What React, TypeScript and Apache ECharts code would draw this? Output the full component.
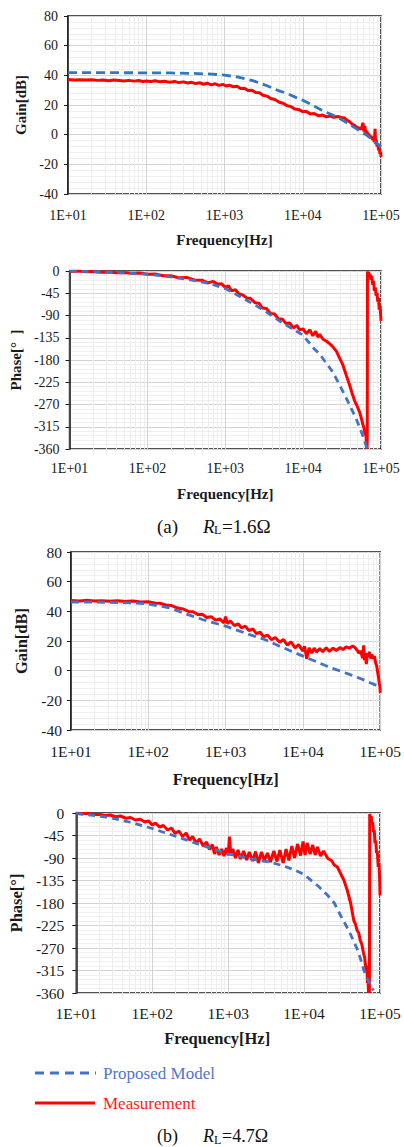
import React, { useEffect, useRef } from 'react';
import * as echarts from 'echarts';

const FONT = 'Liberation Serif';

// Frequency axis: decades 1E+01 .. 1E+05, minor grid at 2..9 x decade
const freqMin = 10;
const freqMax = 100000;
const minorGridFreqs = [
  20, 30, 40, 50, 60, 70, 80, 90,
  200, 300, 400, 500, 600, 700, 800, 900,
  2000, 3000, 4000, 5000, 6000, 7000, 8000, 9000,
  20000, 30000, 40000, 50000, 60000, 70000, 80000, 90000,
];
const gainRange = [-40, 80];
const gainStep = 20;
const phaseRange = [-360, 0];
const phaseStep = 45;

// (a) RL = 1.6 ohm, gain [dB]
const gainA_model: [number, number][] = [
  [10, 41.8], [30, 41.8], [100, 41.7], [200, 41.6], [400, 41.3], [700, 40.8], [1000, 40.2],
  [1500, 38.8], [2300, 36.4], [3500, 33.0], [5000, 29.5], [6200, 27.9], [8000, 25.3],
  [10000, 23.2], [13000, 20.2], [16600, 17.1], [21000, 14.6], [27000, 12.1], [35000, 8.6],
  [44000, 5.4], [55000, 2.2], [65000, -0.2], [80000, -4.0], [100000, -8.0],
];
const gainA_meas: [number, number][] = [
  [10, 37.2], [12, 36.8], [14, 37.1], [17, 36.9], [20, 37.0], [24, 36.6], [28, 36.9], [33, 36.4],
  [38, 36.8], [45, 36.5], [52, 36.2], [60, 36.6], [70, 36.1], [80, 36.5], [90, 35.9], [100, 36.2],
  [115, 35.8], [130, 36.3], [150, 35.6], [170, 36.0], [200, 35.4], [230, 35.9], [260, 35.1],
  [300, 35.6], [340, 34.8], [380, 35.3], [430, 34.4], [480, 35.0], [540, 34.0], [600, 34.7],
  [680, 33.6], [760, 34.3], [850, 33.2], [950, 33.9], [1050, 32.8], [1150, 33.4], [1300, 32.3],
  [1450, 32.7], [1600, 31.2], [1800, 31.3], [2000, 29.8], [2250, 29.9], [2500, 28.4], [2800, 28.3],
  [3100, 26.6], [3500, 26.0], [3900, 24.4], [4400, 23.7], [5000, 21.9], [5600, 21.2], [6300, 19.6],
  [7000, 19.0], [7900, 17.3], [8800, 17.0], [10000, 15.5], [11000, 15.8], [12500, 14.0],
  [14000, 14.3], [16000, 12.7], [18000, 13.2], [20000, 12.0], [22500, 12.6], [25000, 11.7],
  [28000, 12.3], [31000, 11.6], [34000, 11.4], [37000, 9.6], [40000, 8.6], [43000, 7.0],
  [46000, 6.3], [49000, 5.0], [52000, 4.6], [55000, 3.5], [57000, 5.5], [59000, 8.0], [60500, 2.0],
  [62000, 5.8], [64000, 0.8], [66000, 2.5], [68000, -0.5], [70000, 0.5], [72000, -1.8],
  [75000, -1.0], [78000, -3.5], [80000, -2.0], [82000, -5.0], [84000, 4.0], [85500, -6.5],
  [87000, -3.5], [89000, -8.0], [91000, -6.0], [93000, -10.5], [95000, -9.0], [97000, -13.0],
  [99000, -11.5], [100000, -15.0],
];

// (a) RL = 1.6 ohm, phase [deg]
const phaseA_model: [number, number][] = [
  [10, 0], [20, -1.5], [50, -3.5], [100, -6.5], [200, -12], [300, -16], [450, -21], [643, -25.4],
  [1000, -35.5], [1300, -45], [1710, -55.6], [2300, -67], [3090, -79], [4200, -93], [5560, -106],
  [7500, -118], [10000, -130], [13400, -155], [16300, -168], [18900, -182], [24200, -205],
  [26700, -218], [35800, -257], [48000, -299], [55000, -322], [61400, -343], [66300, -360],
];
const phaseA_meas: [number, number][] = [
  [10, -1], [13, 0], [16, -1.5], [20, -1], [25, -2.5], [32, -2], [40, -3.5], [50, -2.8], [63, -4.5],
  [80, -4], [100, -6.5], [125, -6], [160, -9.5], [200, -9.5], [250, -13.5], [320, -13], [400, -18],
  [500, -18.5], [600, -24], [700, -21], [800, -27], [900, -26], [1000, -33], [1100, -30],
  [1200, -40], [1350, -38], [1500, -46], [1700, -49], [1900, -55], [2100, -55], [2400, -64],
  [2700, -65], [3000, -75], [3400, -76], [3800, -86], [4300, -87], [4800, -97], [5400, -97],
  [6000, -106], [6700, -105], [7500, -115], [8300, -110], [9000, -119], [10000, -117],
  [11000, -127], [12200, -119], [13300, -131], [14500, -122], [15500, -134], [16300, -128],
  [18000, -138], [20000, -142], [21900, -147], [24000, -153], [26700, -162], [29400, -176],
  [32400, -190], [36000, -212], [39400, -230], [42500, -247], [45700, -262], [49000, -272],
  [53000, -285], [56000, -298], [58400, -310], [60500, -318], [62700, -332], [64000, -326],
  [65000, -352], [65600, -338], [66200, -360], [66600, -340], [67000, -5], [67500, -1],
  [68500, -8], [69500, -2], [71000, -12], [72500, -6], [74000, -18], [76000, -10], [78400, -28],
  [80500, -20], [82000, -40], [84500, -33], [86500, -50], [89000, -44], [90800, -62],
  [93000, -55], [95000, -78], [97500, -70], [100000, -101],
];

// (b) RL = 4.7 ohm, gain [dB]
const gainB_model: [number, number][] = [
  [10, 46.3], [30, 46.1], [60, 45.7], [100, 45.0], [200, 42.0], [303, 38.3], [500, 34.5],
  [1000, 30.0], [2000, 24.5], [3200, 21.0], [5000, 16.5], [10000, 9.8], [22900, 2.0],
  [40000, -2.5], [61200, -6.2], [100000, -11.1],
];
const gainB_meas: [number, number][] = [
  [10, 47.3], [13, 47.0], [16, 47.4], [20, 46.9], [25, 47.2], [32, 46.8], [40, 47.1], [50, 46.6],
  [63, 46.9], [80, 46.3], [100, 46.5], [120, 45.6], [140, 45.4], [170, 44.3], [200, 43.9],
  [240, 42.2], [280, 41.6], [330, 39.9], [380, 39.7], [440, 37.8], [500, 38.0], [570, 35.9],
  [650, 36.4], [740, 34.1], [840, 34.9], [950, 32.2], [1000, 36.5], [1050, 31.8], [1150, 33.5],
  [1300, 30.4], [1450, 31.6], [1600, 28.9], [1800, 30.0], [2000, 27.0], [2250, 28.2],
  [2500, 25.0], [2800, 25.9], [3100, 22.9], [3500, 24.0], [3900, 20.9], [4400, 22.3],
  [5000, 19.2], [5600, 21.0], [6300, 17.2], [7000, 19.5], [7900, 15.4], [8800, 17.6],
  [10000, 13.2], [10500, 16.5], [11200, 8.0], [12000, 15.4], [13000, 11.8], [14000, 15.2],
  [15000, 12.6], [16500, 15.0], [18000, 12.8], [20000, 15.4], [22000, 13.0], [24500, 15.2],
  [27000, 13.6], [30000, 15.6], [33000, 14.2], [36000, 16.0], [40000, 15.2], [44000, 16.6],
  [47000, 15.6], [50000, 14.0], [53000, 11.8], [56000, 13.2], [59000, 8.5], [61000, 17.0],
  [62500, 7.0], [64000, 12.0], [66000, 4.5], [68000, 11.5], [70000, 9.5], [72000, 12.8],
  [75000, 8.2], [78000, 11.0], [81000, 8.0], [84000, 9.8], [87000, 5.5], [90000, 3.0],
  [93000, -1.8], [95000, -4.5], [97000, -8.5], [99000, -11.0], [100000, -15.0],
];

// (b) RL = 4.7 ohm, phase [deg]
const phaseB_model: [number, number][] = [
  [10, -1], [25, -8], [50, -18], [100, -31], [218, -48], [400, -62], [700, -74], [1000, -82],
  [2000, -92], [3475, -98], [5150, -105], [7500, -114], [10000, -123], [15300, -146],
  [20000, -163], [25000, -180], [30500, -206], [37200, -230], [41000, -243], [50000, -272],
  [55000, -290], [60800, -313], [67000, -330], [74000, -341], [81800, -355],
];
const phaseB_meas: [number, number][] = [
  [10, 0], [12, -1.5], [14, -0.5], [17, -3], [20, -2.5], [24, -5], [28, -4], [33, -7.5], [38, -6],
  [45, -10.5], [52, -9], [60, -14], [70, -12.5], [80, -18], [90, -16], [100, -24], [110, -20],
  [125, -28], [140, -25], [160, -34], [180, -30], [200, -41], [225, -36], [250, -47], [280, -40],
  [310, -54], [340, -47], [380, -60], [420, -52], [470, -66], [520, -58], [570, -73], [620, -63],
  [660, -82], [700, -68], [760, -84], [820, -72], [880, -86], [950, -70], [1000, -85], [1040, -47],
  [1080, -80], [1150, -72], [1250, -90], [1350, -74], [1450, -92], [1600, -76], [1750, -94],
  [1900, -78], [2100, -96], [2300, -77], [2500, -100], [2750, -78], [3000, -95], [3300, -80],
  [3600, -98], [4000, -76], [4400, -97], [4800, -74], [5300, -100], [5800, -72], [6300, -95],
  [6900, -66], [7500, -90], [8200, -62], [9000, -85], [9700, -57], [10300, -84], [11000, -60],
  [12000, -82], [13000, -64], [14000, -84], [15000, -68], [16500, -86], [18000, -76],
  [20600, -91], [23000, -95], [25000, -104], [27500, -108], [30500, -122], [33600, -135],
  [37100, -155], [41000, -180], [45200, -215], [47500, -222], [50000, -235], [52500, -240],
  [55000, -255], [57500, -262], [60800, -281], [63000, -290], [65400, -315], [67000, -305],
  [68500, -340], [69500, -330], [70500, -358], [71500, -345], [72500, -360], [73200, -2],
  [74000, -1], [75000, -10], [76500, -6], [78000, -22], [80000, -18], [82000, -38], [84000, -34],
  [86000, -61], [88000, -55], [90000, -80], [92000, -76], [94900, -108], [97000, -100],
  [99000, -135], [100000, -165],
];

const MODEL = 'Proposed Model';
const MEAS = 'Measurement';
const MEAS_COLOR = '#ff0000';
const LEGEND_BLUE = '#4472c4';

type Panel = {
  rect: { left: number; top: number; width: number; height: number };
  yName: string;
  range: number[];
  step: number;
  tickFont: number;
  nameFont: number;
  yNameGap: number;
  xNameGap: number;
  xLabelMargin: number;
  yLabelMargin: number;
  model: [number, number][];
  meas: [number, number][];
  modelColor: string;
  dash: number[];
  xNamePad?: number[];
};

const panels: Panel[] = [
  {
    rect: { left: 68, top: 16, width: 313, height: 178 }, yName: 'Gain[dB]', range: gainRange,
    step: gainStep, tickFont: 14, nameFont: 15, yNameGap: 36, xNameGap: 38, xLabelMargin: 14,
    yLabelMargin: 10, model: gainA_model, meas: gainA_meas, modelColor: '#2f77c2', dash: [9, 5],
  },
  {
    rect: { left: 69, top: 271, width: 312, height: 178 }, yName: 'Phase[°  ]', range: phaseRange,
    step: phaseStep, tickFont: 14, nameFont: 15, yNameGap: 40, xNameGap: 37, xLabelMargin: 12,
    yLabelMargin: 10, model: phaseA_model, meas: phaseA_meas, modelColor: LEGEND_BLUE, dash: [7, 5],
  },
  {
    rect: { left: 71, top: 552, width: 312, height: 178 }, yName: 'Gain[dB]', range: gainRange,
    step: gainStep, tickFont: 15.5, nameFont: 16.5, yNameGap: 41, xNameGap: 41, xLabelMargin: 13,
    yLabelMargin: 9, model: gainB_model, meas: gainB_meas, modelColor: LEGEND_BLUE, dash: [8, 5],
  },
  {
    rect: { left: 69, top: 813, width: 311, height: 180 }, yName: 'Phase[°]', range: phaseRange,
    step: phaseStep, tickFont: 15.5, nameFont: 16.5, yNameGap: 45, xNameGap: 37, xLabelMargin: 12,
    yLabelMargin: 12, model: phaseB_model, meas: phaseB_meas, modelColor: LEGEND_BLUE, dash: [7, 5],
    xNamePad: [0, 22, 0, 0],
  },
];

function decadeLabel(v: number): string {
  const e = Math.round(Math.log10(v));
  return '1E+' + (e < 10 ? '0' + e : String(e));
}

function buildOption() {
  const grid: any[] = [];
  const xAxis: any[] = [];
  const yAxis: any[] = [];
  const series: any[] = [];

  panels.forEach((p, i) => {
    grid.push({
      ...p.rect,
      show: true,
      borderColor: '#1a1a1a',
      borderWidth: 1.5,
      backgroundColor: 'transparent',
      containLabel: false,
    });
    xAxis.push({
      type: 'log',
      logBase: 10,
      gridIndex: i,
      min: freqMin,
      max: freqMax,
      axisLine: { show: false },
      axisTick: { show: false },
      axisLabel: {
        formatter: decadeLabel,
        fontFamily: FONT,
        fontSize: p.tickFont,
        color: '#1a1a1a',
        margin: p.xLabelMargin,
      },
      splitLine: { show: true, lineStyle: { color: '#d3d3d3', width: 1 } },
      name: 'Frequency[Hz]',
      nameLocation: 'middle',
      nameGap: p.xNameGap,
      nameTextStyle: {
        fontFamily: FONT,
        fontWeight: 'bold',
        fontSize: p.nameFont,
        color: '#1a1a1a',
        padding: p.xNamePad || 0,
      },
    });
    yAxis.push({
      type: 'value',
      gridIndex: i,
      min: p.range[0],
      max: p.range[1],
      interval: p.step,
      axisLine: { show: true, lineStyle: { color: '#1a1a1a', width: 1.5 } },
      axisTick: { show: true, inside: false, length: 4, lineStyle: { color: '#1a1a1a' } },
      axisLabel: {
        fontFamily: FONT,
        fontSize: p.tickFont,
        color: '#1a1a1a',
        margin: p.yLabelMargin,
      },
      splitLine: { show: true, lineStyle: { color: '#d3d3d3', width: 1 } },
      minorTick: { show: false, splitNumber: 5 },
      minorSplitLine: { show: true, lineStyle: { color: '#efefef', width: 1 } },
      name: p.yName,
      nameLocation: 'middle',
      nameGap: p.yNameGap,
      nameTextStyle: {
        fontFamily: FONT,
        fontWeight: 'bold',
        fontSize: p.nameFont,
        color: '#1a1a1a',
      },
    });
    // minor vertical grid (2..9 per decade), placed through the log axis, kept under the curves
    series.push({
      type: 'line',
      xAxisIndex: i,
      yAxisIndex: i,
      data: [],
      silent: true,
      z: 1,
      markLine: {
        z: 1,
        silent: true,
        symbol: ['none', 'none'],
        label: { show: false },
        lineStyle: { color: '#ededed', width: 1, type: 'solid' },
        data: minorGridFreqs.map((f) => ({ xAxis: f })),
      },
    });
    series.push({
      name: MEAS,
      type: 'line',
      xAxisIndex: i,
      yAxisIndex: i,
      data: p.meas,
      showSymbol: false,
      symbol: 'none',
      z: 6,
      lineStyle: { color: MEAS_COLOR, width: 3 },
      itemStyle: { color: MEAS_COLOR },
    });
    series.push({
      name: MODEL,
      type: 'line',
      xAxisIndex: i,
      yAxisIndex: i,
      data: p.model,
      showSymbol: false,
      symbol: 'none',
      z: 7,
      lineStyle: { color: p.modelColor, width: 2.8, type: p.dash },
      itemStyle: { color: p.modelColor },
    });
  });

  const cap = (y: number, label: string, value: string, size: number) => [
    { type: 'text', x: 157, y, style: { text: label, fontFamily: FONT, fontSize: size, fill: '#111', verticalAlign: 'middle' } },
    { type: 'text', x: 203, y, style: { text: 'R', fontFamily: FONT, fontStyle: 'italic', fontSize: size, fill: '#111', verticalAlign: 'middle' } },
    { type: 'text', x: 214, y: y + 4, style: { text: 'L', fontFamily: FONT, fontSize: 12, fill: '#111', verticalAlign: 'middle' } },
    { type: 'text', x: 222, y, style: { text: value, fontFamily: FONT, fontSize: size, fill: '#111', verticalAlign: 'middle' } },
  ];

  const legend = [
    { type: 'line', shape: { x1: 35, y1: 1073, x2: 96, y2: 1073 }, style: { stroke: LEGEND_BLUE, lineWidth: 2.8, lineDash: [9, 6] } },
    { type: 'text', x: 103, y: 1073, style: { text: MODEL, fontFamily: FONT, fontSize: 17, fill: '#4f77c8', verticalAlign: 'middle' } },
    { type: 'line', shape: { x1: 35, y1: 1103, x2: 95, y2: 1103 }, style: { stroke: MEAS_COLOR, lineWidth: 2.8 } },
    { type: 'text', x: 103, y: 1103, style: { text: MEAS, fontFamily: FONT, fontSize: 17, fill: '#ff1a1a', verticalAlign: 'middle' } },
  ];

  return {
    animation: false,
    backgroundColor: '#ffffff',
    textStyle: { fontFamily: FONT },
    grid,
    xAxis,
    yAxis,
    series,
    graphic: [...cap(526, '(a)', '=1.6Ω', 19), ...legend, ...cap(1136, '(b)', '=4.7Ω', 18)],
  };
}

export default function App() {
  const ref = useRef<HTMLDivElement>(null);
  useEffect(() => {
    if (!ref.current) return;
    const chart = echarts.init(ref.current, null, { renderer: 'svg' });
    chart.setOption(buildOption() as any);
    return () => chart.dispose();
  }, []);
  return (
    <div
      ref={ref}
      style={{ position: 'absolute', left: 0, top: 0, width: 404, height: 1147, background: '#fff' }}
    />
  );
}
